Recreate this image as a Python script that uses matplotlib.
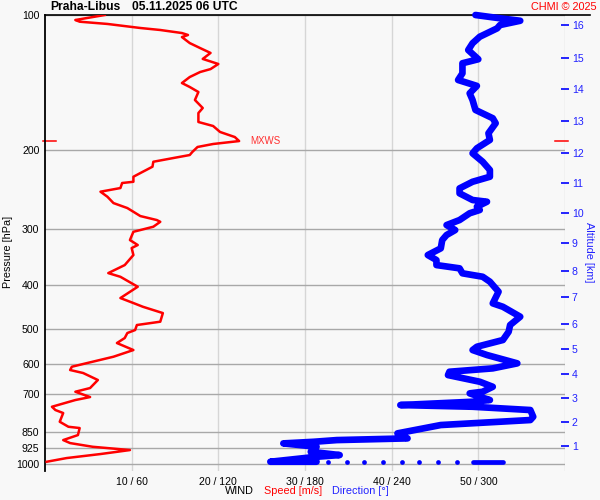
import matplotlib
matplotlib.use('Agg')
import matplotlib.pyplot as plt
from matplotlib.ticker import NullLocator, FixedLocator, FixedFormatter
from matplotlib.transforms import blended_transform_factory

plt.rcParams['font.family'] = ['Liberation Sans', 'DejaVu Sans']

# ---------------- data ----------------
pressure_ticks = [100, 200, 300, 400, 500, 600, 700, 850, 925, 1000]
speed_ticks = [10, 20, 30, 40, 50, 60]
speed_tick_labels = ['10 / 60', '20 / 120', '30 / 180', '40 / 240', '50 / 300', '']
alt_km = [1, 2, 3, 4, 5, 6, 7, 8, 9, 10, 11, 12, 13, 14, 15, 16]
alt_p = [914.1, 809.3, 715.4, 632.6, 556.4, 488.7, 424.8, 371.6, 321.9, 276.7,
         237.3, 202.9, 172.1, 146.4, 124.5, 105.3]

speed_p = [100, 102.6, 103.5, 104.7, 106.9, 108.0, 109.7, 110.8, 112.0, 115.5,
           118.5, 121.5, 125.3, 128.6, 132.0, 134.0, 137.5, 141.8, 144.7, 148.5,
           154.7, 161.2, 165.4, 173.2, 176.8, 182.3, 187.1, 191.0, 193.9, 196.9,
           202.0, 205.2, 208.4, 212.4, 217.9, 225.1, 229.4, 235.4, 236.9, 243.1,
           247.7, 254.2, 262.6, 269.4, 274.6, 280.7, 286.5, 289.1, 296.5, 301.6,
           304.3, 317.5, 325.7, 330.8, 342.9, 361.0, 376.2, 383.4, 403.5, 427.6,
           438.7, 447.2, 461.9, 482.8, 491.1, 503.9, 511.7, 525.0, 538.7, 558.4,
           577.9, 592.9, 608.3, 618.7, 628.3, 651.3, 678.7, 691.7, 710.8, 721.8,
           747.1, 759.8, 771.6, 806.9, 827.9, 833.4, 864.0, 886.5, 900.3, 917.5,
           933.1, 952.4, 972.2, 990.8]
speed_ms = [6.9, 3.5, 4.0, 7.2, 11.0, 13.3, 15.8, 16.5, 15.8, 16.7,
            17.9, 19.1, 18.2, 20.0, 19.1, 17.9, 16.7, 15.8, 16.7, 17.7,
            17.3, 18.2, 17.7, 17.7, 19.4, 20.2, 21.9, 22.4, 19.4, 17.6,
            17.0, 16.7, 14.8, 12.5, 12.4, 11.0, 10.2, 10.2, 8.9, 8.7,
            6.4, 7.2, 7.9, 9.5, 10.2, 11.0, 12.9, 13.3, 12.5, 11.0,
            10.2, 9.8, 10.7, 10.0, 10.2, 9.2, 7.3, 8.7, 10.7, 8.7,
            10.2, 11.3, 13.6, 13.3, 10.6, 10.4, 9.5, 9.2, 8.3, 10.2,
            7.9, 5.5, 3.1, 2.9, 4.4, 6.1, 5.2, 3.5, 5.2, 3.5,
            0.8, 1.2, 2.1, 1.7, 2.7, 4.0, 3.8, 2.1, 2.9, 5.5,
            9.8, 6.4, 2.5, 0.2]

dir_p = [100, 101.7, 103.0, 105.3, 107.1, 111.8, 115.6, 119.7, 125.5, 128.1,
         134.9, 139.6, 143.9, 149.5, 154.7, 162.8, 169.9, 174.3, 183.5, 189.9,
         198.2, 203.4, 212.4, 221.6, 229.4, 235.4, 243.5, 249.8, 258.5, 260.8,
         267.5, 272.1, 276.7, 286.5, 294.0, 301.6, 309.4, 317.5, 331.3, 342.9,
         351.8, 361.0, 367.1, 376.6, 383.3, 393.2, 413.9, 439.4, 447.2, 470.6,
         491.1, 508.3, 530.4, 549.0, 558.4, 572.9, 597.9, 613.5, 624.2, 635.0,
         657.1, 674.3, 691.7, 697.5, 709.8, 721.8, 728.1, 740.6, 747.1, 759.8,
         786.5, 799.8, 820.6, 856.5, 878.8, 886.5, 894.3, 901.7, 917.5, 941.4,
         957.4, 965.8, 990.8, 990.8]
dir_deg = [298, 315, 329, 315, 313, 301, 296, 293, 300, 289,
           289, 286, 299, 294, 296, 298, 310, 312, 307, 308,
           299, 296, 303, 308, 308, 296, 287, 287, 296, 306,
           299, 301, 294, 287, 278, 284, 278, 275, 274, 265,
           271, 271, 287, 289, 303, 308, 314, 310, 317, 329,
           322, 321, 317, 299, 296, 306, 327, 310, 280, 279,
           301, 310, 303, 294, 301, 308, 296, 246, 296, 336,
           338, 336, 274, 244, 251, 202, 186, 165, 188, 184,
           204, 188, 156, 188]

surface_p = 990.8
surface_dots_deg = [196, 209, 221, 234, 247, 259, 272, 285]
surface_band_deg = [296, 317]
mxws_p = 191.0

# ---------------- figure ----------------
W, H = 600, 500
BG = '#f8f8f8'
fig = plt.figure(figsize=(6, 5), dpi=100, facecolor=BG)
L, R, T, B = 45, 565, 15, 471
ax = fig.add_axes([L / W, 1 - B / H, (R - L) / W, (B - T) / H])
ax.set_facecolor(BG)
ax.set_yscale('log')
ax.set_ylim(1039, 100)
ax.set_xlim(0, 60)

for s in ['top', 'right', 'bottom']:
    ax.spines[s].set_visible(False)
ax.spines['left'].set_color('black')
ax.spines['left'].set_linewidth(1.3)

ax.yaxis.set_major_locator(FixedLocator(pressure_ticks))
ax.yaxis.set_major_formatter(FixedFormatter([str(p) for p in pressure_ticks]))
ax.yaxis.set_minor_locator(NullLocator())
ax.tick_params(axis='y', length=0, pad=4, labelsize=7.6)
ax.set_xticks(speed_ticks)
ax.set_xticklabels(speed_tick_labels)
ax.tick_params(axis='x', length=0, pad=4, labelsize=7.6)
ax.grid(axis='x', color='#d6d6d6', lw=1)
ax.grid(axis='y', color='#a8a8a8', lw=1)
ax.set_axisbelow(True)

# top black line
ax.plot([0, (590 - L) / (R - L)], [1, 1], transform=ax.transAxes,
        color='black', lw=1.2, clip_on=False, zorder=3)

# speed profile
ax.plot(speed_ms, speed_p, color='#ff0000', lw=1.8, zorder=4)

# MXWS markers
bt = blended_transform_factory(ax.transAxes, ax.transData)
ax.plot([(43 - L) / (R - L), (56 - L) / (R - L)], [mxws_p, mxws_p], transform=bt,
        color='#ff0000', lw=1.1, clip_on=False)
ax.plot([(555 - L) / (R - L), (568 - L) / (R - L)], [mxws_p, mxws_p], transform=bt,
        color='#ff0000', lw=1.1, clip_on=False)
ax.text((250 - L) / (R - L), mxws_p, 'MXWS', transform=bt, color='#ff3030',
        fontsize=7, va='center', ha='left')

# direction profile
ax2 = ax.twiny()
ax2.set_xlim(0, 360)
ax2.set_xticks([])
for s in ax2.spines.values():
    s.set_visible(False)
ax2.plot(dir_deg, dir_p, color='#0000ff', lw=4.8, solid_capstyle='round',
         solid_joinstyle='round', clip_on=False, zorder=5)
ax2.plot(surface_dots_deg, [surface_p] * len(surface_dots_deg), 'o',
         color='#0000ff', ms=3.4, mew=0, zorder=5)
ax2.plot(surface_band_deg, [surface_p] * len(surface_band_deg), color='#0000ff',
         lw=3.4, solid_capstyle='round', zorder=5)

# altitude axis
ax3 = ax.twinx()
ax3.set_yscale('log')
ax3.set_ylim(1039, 100)
ax3.yaxis.set_major_locator(FixedLocator(alt_p))
ax3.yaxis.set_major_formatter(FixedFormatter([str(k) for k in alt_km]))
ax3.yaxis.set_minor_locator(NullLocator())
ax3.tick_params(axis='y', colors='#0000ff', direction='inout', length=6,
                width=1.2, pad=2, labelsize=7.6, labelcolor='#2222ff')
for s in ax3.spines.values():
    s.set_visible(False)

# texts
fig.text(50 / W, 1 - 7.5 / H, 'Praha-Libus', fontsize=8.7, fontweight='bold',
         va='center', ha='left')
fig.text(131.5 / W, 1 - 7.5 / H, '05.11.2025 06 UTC', fontsize=8.7,
         fontweight='bold', va='center', ha='left')
fig.text(597 / W, 1 - 7.5 / H, 'CHMI © 2025', fontsize=7.8, color='#ff0000',
         va='center', ha='right')
fig.text(8 / W, 1 - 252 / H, 'Pressure [hPa]', fontsize=7.8, rotation=90,
         va='center', ha='center')
fig.text(589 / W, 1 - 252 / H, 'Altitude [km]', fontsize=7.8, rotation=-90,
         va='center', ha='center', color='#2222ff')
fig.text(225 / W, 1 - 491 / H, 'WIND', fontsize=7.8, va='center', ha='left')
fig.text(264 / W, 1 - 491 / H, 'Speed [m/s]', fontsize=7.8, va='center',
         ha='left', color='#ff0000')
fig.text(332 / W, 1 - 491 / H, 'Direction [°]', fontsize=7.8, va='center',
         ha='left', color='#2222ff')

fig.savefig('out.png', dpi=100, facecolor=BG)
